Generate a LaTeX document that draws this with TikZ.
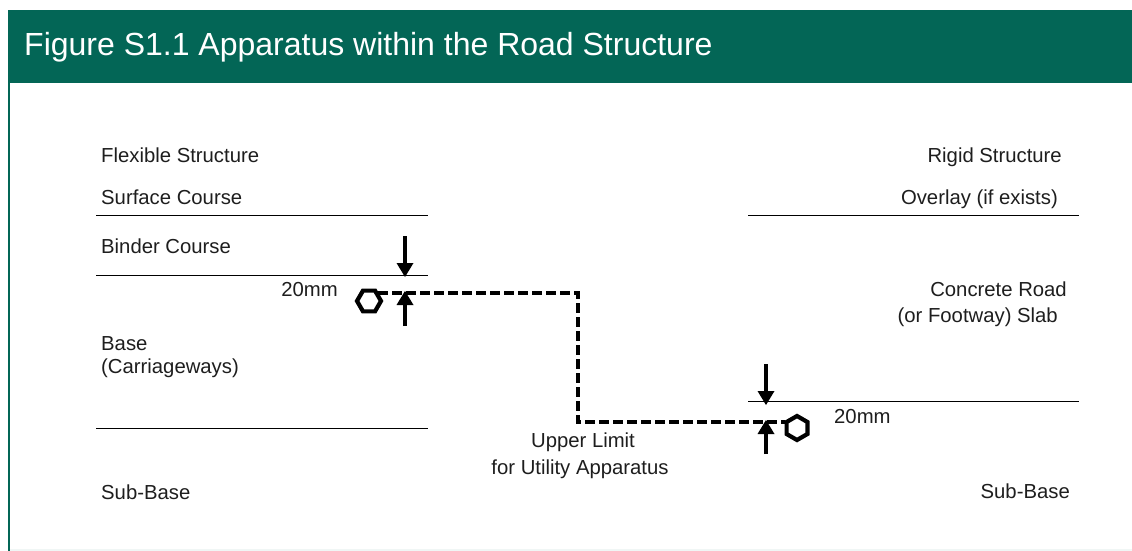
\documentclass[tikz,border=0pt]{standalone}
\usepackage{fontspec}
\setmainfont{Liberation Sans}
\usetikzlibrary{shapes.geometric,arrows.meta}
\definecolor{hdr}{RGB}{3,102,86}
\definecolor{ink}{RGB}{30,30,30}
\tikzset{
 lab/.style={inner sep=0pt,text=ink,font=\fontsize{20.3}{24}\selectfont},
 rule/.style={line width=1pt,black},
 pipe/.style={line width=3.6pt,black,dash pattern=on 10pt off 4pt},
 dim/.style={line width=4pt,black,-{Triangle[length=14pt,width=17pt,line width=0pt]}},
 valve/.style={draw=black,line width=4.2pt,regular polygon,regular polygon sides=6,inner sep=0pt,minimum size=24pt,fill=white}
}
\begin{document}
\begin{tikzpicture}[x=1pt,y=-1pt]
\useasboundingbox (0,0) rectangle (1132,551);
\fill[white] (0,0) rectangle (1132,551);
\fill[hdr] (8,10) rectangle (1132,83);
\fill[hdr] (8,83) rectangle (10,551);
\fill[hdr!6] (10,549) rectangle (1132,551);
\node[inner sep=0pt,anchor=base west,text=white,font=\fontsize{32}{36}\selectfont] (title) at (24,56) {Figure S1.1 Apparatus within the Road Structure};
% labels left
\node[lab,anchor=base west] (l1) at (101,162) {Flexible Structure};
\node[lab,anchor=base west] (l2) at (101,204) {Surface Course};
\node[lab,anchor=base west] (l3) at (101,253) {Binder Course};
\node[lab,anchor=base west] (l4) at (101,350) {Base};
\node[lab,anchor=base west] (l5) at (101,373) {(Carriageways)};
\node[lab,anchor=base west] (l6) at (101,499) {Sub-Base};
\node[lab,anchor=base east] (d1) at (338,296) {20mm};
% labels right
\node[lab,anchor=base east] (r1) at (1062,162) {Rigid Structure};
\node[lab,anchor=base east] (r2) at (1058,204) {Overlay (if exists)};
\node[lab,anchor=base east] (r3) at (1067,296) {Concrete Road};
\node[lab,anchor=base east] (r4) at (1058,322) {(or Footway) Slab};
\node[lab,anchor=base east] (r5) at (1070,498) {Sub-Base};
\node[lab,anchor=base west] (d2) at (834,423) {20mm};
% centre
\node[lab,anchor=base] (c1) at (583,447) {Upper Limit};
\node[lab,anchor=base] (c2) at (580,474) {for Utility Apparatus};
% rules
\coordinate (a1) at (96,215); \coordinate (a2) at (428,215);
\coordinate (b1) at (96,275); \coordinate (b2) at (428,275);
\coordinate (e1) at (96,428); \coordinate (e2) at (428,428);
\coordinate (f1) at (748,215); \coordinate (f2) at (1079,215);
\coordinate (g1) at (748,401); \coordinate (g2) at (1079,401);
\draw[rule] (a1)--(a2); \draw[rule] (b1)--(b2); \draw[rule] (e1)--(e2);
\draw[rule] (f1)--(f2); \draw[rule] (g1)--(g2);
% valves
\node[valve] (vl) at (369,301) {};
\node[valve,rotate=30] (vr) at (797,428) {};
% pipe
\coordinate (p1) at (578,293); \coordinate (p2) at (578,422);
\draw[pipe] (vl.north east|-p1) -- (p1) -- (p2) -- (vr.north west|-p2);
% dimension arrows
\coordinate (u1) at (405,236); \coordinate (u2) at (405,277);
\coordinate (u3) at (405,326); \coordinate (u4) at (405,291);
\coordinate (w1) at (766,364); \coordinate (w2) at (766,405);
\coordinate (w3) at (766,454); \coordinate (w4) at (766,420);
\draw[dim] (u1)--(u2); \draw[dim] (u3)--(u4);
\draw[dim] (w1)--(w2); \draw[dim] (w3)--(w4);
\end{tikzpicture}
\end{document}
